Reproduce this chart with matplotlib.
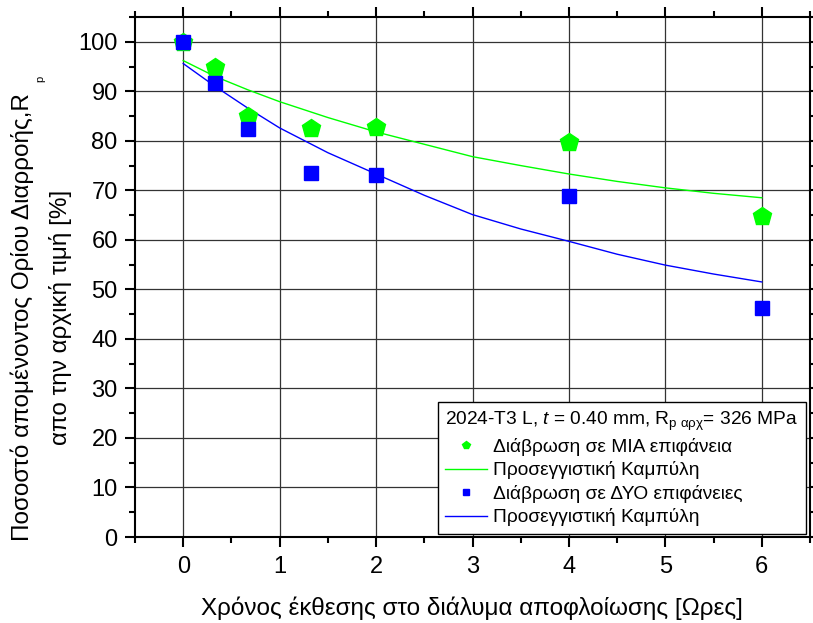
import matplotlib
matplotlib.use('Agg')
import matplotlib.pyplot as plt
from matplotlib.ticker import MultipleLocator

plt.rcParams['font.family'] = ['Liberation Sans', 'DejaVu Sans']
plt.rcParams['mathtext.fontset'] = 'custom'
plt.rcParams['mathtext.rm'] = 'Liberation Sans'
plt.rcParams['mathtext.it'] = 'Liberation Sans:italic'

# measured points (hours of exposure, % of initial Rp)
hours = [0, 0.33, 0.67, 1.33, 2, 4, 6]
one_side = [100, 94.9, 85.0, 82.6, 82.8, 79.8, 64.8]
two_sides = [100, 91.6, 82.3, 73.6, 73.0, 68.8, 46.3]

# fitted curves
fit_hours = [0, 0.33, 0.67, 1, 1.5, 2, 2.5, 3, 3.5, 4, 4.5, 5, 5.5, 6]
fit_one = [96.2, 93.0, 90.3, 87.9, 84.7, 81.8, 79.3, 76.8, 75.0, 73.3, 71.8, 70.5, 69.4, 68.5]
fit_two = [95.6, 91.0, 86.6, 82.6, 77.6, 73.3, 69.0, 65.1, 62.2, 59.7, 57.1, 54.9, 53.1, 51.5]

x_ticks = [0, 1, 2, 3, 4, 5, 6]
y_ticks = [0, 10, 20, 30, 40, 50, 60, 70, 80, 90, 100]

W, H = 813, 623
fig = plt.figure(figsize=(W / 100, H / 100), dpi=100)
ax = fig.add_axes([135 / W, 1 - 537 / H, 675 / W, 520 / H])

ax.plot(hours, one_side, 'p', color='#00ff00', ms=13.5, zorder=3,
        label='Διάβρωση σε ΜΙΑ επιφάνεια')
ax.plot(fit_hours, fit_one, '-', color='#00ff00', lw=1,
        label='Προσεγγιστική Καμπύλη')
ax.plot(hours, two_sides, 's', color='#0000ff', ms=10.5, zorder=4,
        label='Διάβρωση σε ΔΥΟ επιφάνειες')
ax.plot(fit_hours, fit_two, '-', color='#0000ff', lw=1,
        label='Προσεγγιστική Καμπύλη')

ax.set_xlim(-0.5, 6.5)
ax.set_ylim(0, 105)
ax.set_xticks(x_ticks)
ax.set_yticks(y_ticks)
ax.xaxis.set_minor_locator(MultipleLocator(0.5))
ax.yaxis.set_minor_locator(MultipleLocator(5))
ax.grid(True, which='major', color='0.2', lw=0.9)
ax.set_axisbelow(True)

ax.tick_params(which='both', direction='out', top=True, right=True, width=1.5,
               labelsize=17)
ax.tick_params(which='major', length=7.5)
ax.tick_params(which='minor', length=4)
ax.tick_params(axis='x', pad=6)
ax.tick_params(axis='y', pad=5)
for s in ax.spines.values():
    s.set_linewidth(1.5)

leg = ax.legend(loc='lower right', bbox_to_anchor=(0.994, 0.006), borderaxespad=0,
                title='2024-T3 L, $t$ = 0.40 mm, R$_{\\mathrm{p\\ αρχ}}$= 326 MPa',
                alignment='left', fontsize=13.8, title_fontsize=13.8,
                fancybox=False, edgecolor='black', framealpha=1,
                handlelength=2.2, handletextpad=0.3, labelspacing=0.28,
                markerscale=0.45, borderpad=0.4)
leg.get_frame().set_linewidth(1.0)

# y label in two lines, with the odd subscript p of the original
fig.text(22 / W, 1 - 317 / H, 'Ποσοστό απομένοντος Ορίου Διαρροής,R',
         rotation=90, ha='center', va='center', fontsize=17.5)
fig.text(61 / W, 1 - 317 / H, 'απο την αρχική τιμή [%]',
         rotation=90, ha='center', va='center', fontsize=17.5)
fig.text(40 / W, 1 - 79 / H, 'p', rotation=90, ha='center', va='center', fontsize=8)

fig.text(472 / W, 1 - 615 / H, 'Χρόνος έκθεσης στο διάλυμα αποφλοίωσης [Ωρες]',
         ha='center', va='baseline', fontsize=17.5)

fig.savefig('out.png', dpi=100)
